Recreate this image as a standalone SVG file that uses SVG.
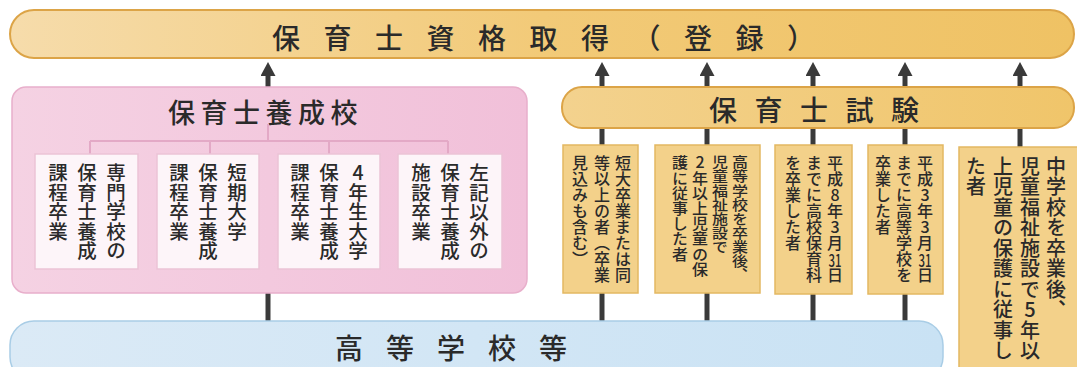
<svg xmlns="http://www.w3.org/2000/svg" width="1077" height="367" viewBox="0 0 1077 367">
<style>
text { font-family: "Noto Sans CJK JP", "Noto Sans CJK SC", sans-serif; fill: #2a2a2a; font-weight: 500; }
.h { dominant-baseline: central; }
.v { writing-mode: vertical-rl; text-orientation: upright; }
.f16 { font-size: 16px; }
.f19 { font-size: 19.5px; }
.f20 { font-size: 20px; }
.ink { stroke: #3a3a3a; stroke-width: 5; fill: none; }
.tree { stroke: #e3a9c6; stroke-width: 2; fill: none; }
.wbox { fill: #fdf5f9; stroke: #ebc3d6; stroke-width: 1.5; }
.ybox { fill: #f3d18a; stroke: #e3b862; stroke-width: 1.5; }
</style>
<defs>
<linearGradient id="gOr" x1="0" y1="0" x2="1" y2="0">
<stop offset="0" stop-color="#f6dcab"/>
<stop offset="0.5" stop-color="#f2ca78"/>
<stop offset="1" stop-color="#efc264"/>
</linearGradient>
<linearGradient id="gOr2" x1="0" y1="0" x2="1" y2="0">
<stop offset="0" stop-color="#f3d28e"/>
<stop offset="1" stop-color="#f0c56a"/>
</linearGradient>
<linearGradient id="gPk" x1="0" y1="0" x2="1" y2="0">
<stop offset="0" stop-color="#f5d2e3"/>
<stop offset="1" stop-color="#f1c0d9"/>
</linearGradient>
<linearGradient id="gBl" x1="0" y1="0" x2="1" y2="0">
<stop offset="0" stop-color="#dbeaf6"/>
<stop offset="1" stop-color="#c9e2f4"/>
</linearGradient>
<marker id="ah" markerUnits="userSpaceOnUse" markerWidth="15" markerHeight="15" refX="0" refY="7.5" orient="auto">
<path d="M0,0 L14,7.5 L0,15 z" fill="#3a3a3a"/>
</marker>
</defs>

<rect width="1077" height="367" fill="#ffffff"/>

<g id="connectors">
<line class="ink" x1="268" y1="88" x2="268" y2="76" marker-end="url(#ah)"/>
<line class="ink" x1="602" y1="88" x2="602" y2="76" marker-end="url(#ah)"/>
<line class="ink" x1="707" y1="88" x2="707" y2="76" marker-end="url(#ah)"/>
<line class="ink" x1="813" y1="88" x2="813" y2="76" marker-end="url(#ah)"/>
<line class="ink" x1="905" y1="88" x2="905" y2="76" marker-end="url(#ah)"/>
<line class="ink" x1="1020" y1="88" x2="1020" y2="76" marker-end="url(#ah)"/>
<line class="ink" x1="602" y1="127" x2="602" y2="146"/>
<line class="ink" x1="707" y1="127" x2="707" y2="146"/>
<line class="ink" x1="813" y1="127" x2="813" y2="146"/>
<line class="ink" x1="905" y1="127" x2="905" y2="146"/>
<line class="ink" x1="1020" y1="127" x2="1020" y2="148"/>
<line class="ink" x1="602" y1="293" x2="602" y2="323"/>
<line class="ink" x1="707" y1="293" x2="707" y2="323"/>
<line class="ink" x1="813" y1="293" x2="813" y2="323"/>
<line class="ink" x1="905" y1="293" x2="905" y2="323"/>
<line class="ink" x1="268" y1="292" x2="268" y2="323"/>
</g>

<g id="qualification">
<rect x="10" y="10" width="1064" height="48" rx="24" fill="url(#gOr)" stroke="#dca447" stroke-width="2"/>
<text class="h" x="272" y="37" font-size="28" letter-spacing="23.5">保育士資格取得（登録）</text>
</g>

<g id="training-schools">
<rect x="12" y="87" width="515" height="206" rx="14" fill="url(#gPk)" stroke="#e8afcb" stroke-width="1.5"/>
<text class="h" x="168" y="111" font-size="27" letter-spacing="5.5">保育士養成校</text>
<path class="tree" d="M268,124 V141 M90,141 H448 M90,141 V154 M210,141 V154 M329,141 V154 M448,141 V154"/>
</g>

<g id="school-1">
<rect class="wbox" x="35" y="154" width="103" height="115"/>
<text class="v f19" x="116" y="163">専門学校の</text>
<text class="v f19" x="87" y="163">保育士養成</text>
<text class="v f19" x="58" y="163">課程卒業</text>
</g>
<g id="school-2">
<rect class="wbox" x="157" y="154" width="102" height="115"/>
<text class="v f19" x="237" y="163">短期大学</text>
<text class="v f19" x="208" y="163">保育士養成</text>
<text class="v f19" x="179" y="163">課程卒業</text>
</g>
<g id="school-3">
<rect class="wbox" x="278" y="154" width="102" height="115"/>
<text class="v f19" x="358" y="163">4年生大学</text>
<text class="v f19" x="329" y="163">保育士養成</text>
<text class="v f19" x="300" y="163">課程卒業</text>
</g>
<g id="school-4">
<rect class="wbox" x="398" y="154" width="104" height="115"/>
<text class="v f19" x="479" y="163">左記以外の</text>
<text class="v f19" x="450" y="163">保育士養成</text>
<text class="v f19" x="421" y="163">施設卒業</text>
</g>

<g id="exam">
<rect x="562" y="87" width="512" height="41" rx="20" fill="url(#gOr2)" stroke="#dca447" stroke-width="2"/>
<text class="h" x="709" y="109" font-size="28" letter-spacing="17.5">保育士試験</text>
</g>

<g id="exam-a">
<rect class="ybox" x="563" y="145" width="75" height="148"/>
<text class="v f16" x="623" y="155">短大卒業または同</text>
<text class="v f16" x="602" y="155">等以上の者（卒業</text>
<text class="v f16" x="580" y="155">見込みも含む）</text>
</g>
<g id="exam-b">
<rect class="ybox" x="655" y="145" width="105" height="148"/>
<text class="v f16" x="740" y="155" transform="matrix(1 0 0 0.88 0 18.6)">高等学校を卒業後、</text>
<text class="v f16" x="720" y="155" transform="matrix(1 0 0 0.88 0 18.6)">児童福祉施設で</text>
<text class="v f16" x="700" y="155" transform="matrix(1 0 0 0.95 0 7.75)">2年以上児童の保</text>
<text class="v f16" x="680" y="155" transform="matrix(1 0 0 0.95 0 7.75)">護に従事した者</text>
</g>
<g id="exam-c">
<rect class="ybox" x="775" y="145" width="77" height="149"/>
<text class="v f16" x="835" y="155">平成8年3月</text>
<text x="835" y="259" class="h" font-size="17" text-anchor="middle" textLength="13" lengthAdjust="spacingAndGlyphs">31</text>
<text class="v f16" x="835" y="267">日</text>
<text class="v f16" x="814" y="155">までに高校保育科</text>
<text class="v f16" x="793" y="155">を卒業した者</text>
</g>
<g id="exam-d">
<rect class="ybox" x="868" y="145" width="75" height="149"/>
<text class="v f16" x="925" y="155">平成3年3月</text>
<text x="925" y="259" class="h" font-size="17" text-anchor="middle" textLength="13" lengthAdjust="spacingAndGlyphs">31</text>
<text class="v f16" x="925" y="267">日</text>
<text class="v f16" x="904" y="155">までに高等学校を</text>
<text class="v f16" x="883" y="155">卒業した者</text>
</g>
<g id="exam-e">
<rect class="ybox" x="959" y="147" width="130" height="240"/>
<text class="v f20" x="1056" y="156" letter-spacing="0.5">中学校を卒業後、</text>
<text class="v f20" x="1030" y="156" letter-spacing="0.5">児童福祉施設で5年以</text>
<text class="v f20" x="1003" y="156" letter-spacing="0.5">上児童の保護に従事し</text>
<text class="v f20" x="976" y="156" letter-spacing="0.5">た者</text>
</g>

<g id="high-school">
<rect x="10" y="321" width="933" height="60" rx="24" fill="url(#gBl)" stroke="#a9cde6" stroke-width="1.5"/>
<text class="h" x="335" y="347" font-size="28" letter-spacing="23">高等学校等</text>
</g>
</svg>
